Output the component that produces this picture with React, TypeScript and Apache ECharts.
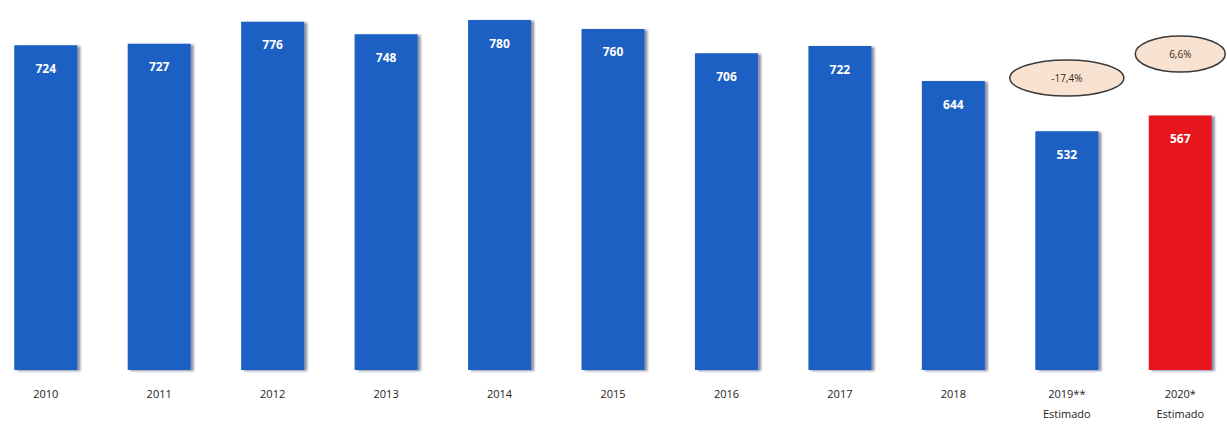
import React, { useEffect, useRef } from "react";
import * as echarts from "echarts";

const categories = ["2010", "2011", "2012", "2013", "2014", "2015", "2016", "2017", "2018", "2019**\nEstimado", "2020*\nEstimado"];
const values = [724, 727, 776, 748, 780, 760, 706, 722, 644, 532, 567];
const barColors = ["#1E60C4", "#1E60C4", "#1E60C4", "#1E60C4", "#1E60C4", "#1E60C4", "#1E60C4", "#1E60C4", "#1E60C4", "#1E60C4", "#E6121F"];
const changeCategories = ["2019**\nEstimado", "2020*\nEstimado"];
const changeLabels = ["-17,4%", "6,6%"];

export default function App() {
  const ref = useRef<HTMLDivElement>(null);
  useEffect(() => {
    if (!ref.current) return;
    const chart = echarts.init(ref.current, null, { renderer: "svg" });
    chart.setOption({
      animation: false,
      backgroundColor: "#ffffff",
      grid: { left: 0, right: 0, top: 20, bottom: 55 },
      xAxis: {
        type: "category",
        data: categories,
        axisLine: { show: false },
        axisTick: { show: false },
        axisLabel: {
          color: "#222",
          fontFamily: "Open Sans",
          fontSize: 11,
          lineHeight: 20,
          margin: 13,
          interval: 0,
        },
      },
      yAxis: { type: "value", min: 0, max: 780, show: false, splitLine: { show: false } },
      series: [
        {
          type: "bar",
          barWidth: 63,
          data: values.map((v, i) => ({ value: v, itemStyle: { color: barColors[i] } })),
          itemStyle: {
            shadowColor: "rgba(10,30,80,0.5)",
            shadowOffsetX: 3,
            shadowOffsetY: 1,
            shadowBlur: 2,
          },
          label: {
            show: true,
            position: "insideTop",
            distance: 17,
            color: "#ffffff",
            fontFamily: "Open Sans",
            fontWeight: "bold",
            fontSize: 12,
          },
        },
      ],
    });
    const yPos = [78, 54];
    const widths = [114, 90];
    chart.setOption({
      graphic: changeCategories.map((c, i) => {
        const x = chart.convertToPixel({ xAxisIndex: 0 }, c) as number;
        return {
          type: "group",
          x: x,
          y: yPos[i],
          children: [
            {
              type: "ellipse",
              shape: { cx: 0, cy: 0, rx: widths[i] / 2, ry: 18 },
              style: { fill: "#F8E3D2", stroke: "#3a3a3a", lineWidth: 1.5 },
            },
            {
              type: "text",
              x: 0,
              y: 0,
              style: {
                text: changeLabels[i],
                fill: "#3a2a1a",
                fontFamily: "Open Sans",
                fontSize: 10,
                align: "center",
                verticalAlign: "middle",
              },
            },
          ],
        };
      }),
    });
    return () => chart.dispose();
  }, []);
  return (
    <div
      ref={ref}
      style={{ position: "fixed", left: -11, top: 0, width: 1248, height: 425 }}
    />
  );
}
